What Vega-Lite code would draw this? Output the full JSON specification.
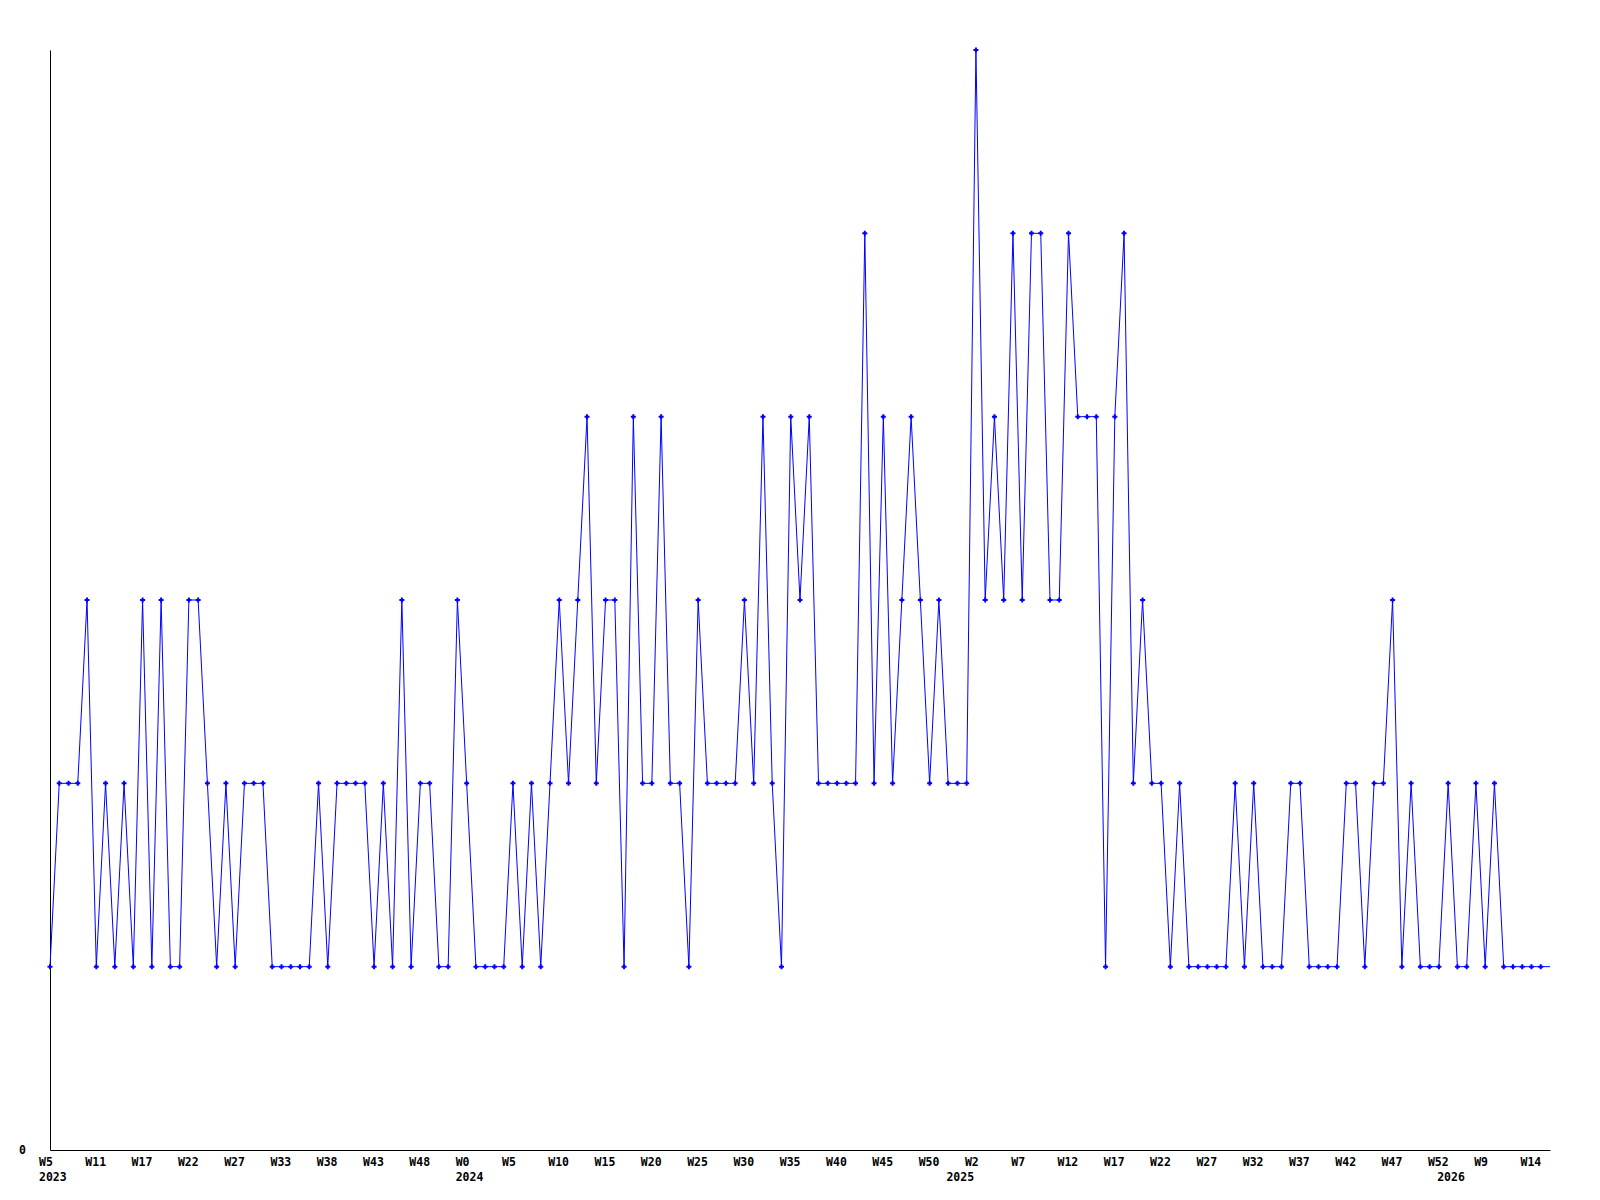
{
  "$schema": "https://vega.github.io/schema/vega-lite/v6.json",
  "width": 1500,
  "height": 1100,
  "autosize": "none",
  "padding": {"left": 50, "top": 50, "right": 50, "bottom": 50},
  "background": "white",
  "config": {
    "view": {"stroke": null},
    "axis": {
      "labelFont": "DejaVu Sans Mono",
      "labelFontWeight": "bold",
      "labelFontSize": 11.5,
      "labelColor": "#000000",
      "domainColor": "#000000",
      "domainWidth": 1,
      "grid": false,
      "ticks": false,
      "title": null
    }
  },
  "data": {
    "values": [
      {"i": 1, "v": 1}, {"i": 2, "v": 2}, {"i": 3, "v": 2}, {"i": 4, "v": 2}, {"i": 5, "v": 3},
      {"i": 6, "v": 1}, {"i": 7, "v": 2}, {"i": 8, "v": 1}, {"i": 9, "v": 2}, {"i": 10, "v": 1},
      {"i": 11, "v": 3}, {"i": 12, "v": 1}, {"i": 13, "v": 3}, {"i": 14, "v": 1}, {"i": 15, "v": 1},
      {"i": 16, "v": 3}, {"i": 17, "v": 3}, {"i": 18, "v": 2}, {"i": 19, "v": 1}, {"i": 20, "v": 2},
      {"i": 21, "v": 1}, {"i": 22, "v": 2}, {"i": 23, "v": 2}, {"i": 24, "v": 2}, {"i": 25, "v": 1},
      {"i": 26, "v": 1}, {"i": 27, "v": 1}, {"i": 28, "v": 1}, {"i": 29, "v": 1}, {"i": 30, "v": 2},
      {"i": 31, "v": 1}, {"i": 32, "v": 2}, {"i": 33, "v": 2}, {"i": 34, "v": 2}, {"i": 35, "v": 2},
      {"i": 36, "v": 1}, {"i": 37, "v": 2}, {"i": 38, "v": 1}, {"i": 39, "v": 3}, {"i": 40, "v": 1},
      {"i": 41, "v": 2}, {"i": 42, "v": 2}, {"i": 43, "v": 1}, {"i": 44, "v": 1}, {"i": 45, "v": 3},
      {"i": 46, "v": 2}, {"i": 47, "v": 1}, {"i": 48, "v": 1}, {"i": 49, "v": 1}, {"i": 50, "v": 1},
      {"i": 51, "v": 2}, {"i": 52, "v": 1}, {"i": 53, "v": 2}, {"i": 54, "v": 1}, {"i": 55, "v": 2},
      {"i": 56, "v": 3}, {"i": 57, "v": 2}, {"i": 58, "v": 3}, {"i": 59, "v": 4}, {"i": 60, "v": 2},
      {"i": 61, "v": 3}, {"i": 62, "v": 3}, {"i": 63, "v": 1}, {"i": 64, "v": 4}, {"i": 65, "v": 2},
      {"i": 66, "v": 2}, {"i": 67, "v": 4}, {"i": 68, "v": 2}, {"i": 69, "v": 2}, {"i": 70, "v": 1},
      {"i": 71, "v": 3}, {"i": 72, "v": 2}, {"i": 73, "v": 2}, {"i": 74, "v": 2}, {"i": 75, "v": 2},
      {"i": 76, "v": 3}, {"i": 77, "v": 2}, {"i": 78, "v": 4}, {"i": 79, "v": 2}, {"i": 80, "v": 1},
      {"i": 81, "v": 4}, {"i": 82, "v": 3}, {"i": 83, "v": 4}, {"i": 84, "v": 2}, {"i": 85, "v": 2},
      {"i": 86, "v": 2}, {"i": 87, "v": 2}, {"i": 88, "v": 2}, {"i": 89, "v": 5}, {"i": 90, "v": 2},
      {"i": 91, "v": 4}, {"i": 92, "v": 2}, {"i": 93, "v": 3}, {"i": 94, "v": 4}, {"i": 95, "v": 3},
      {"i": 96, "v": 2}, {"i": 97, "v": 3}, {"i": 98, "v": 2}, {"i": 99, "v": 2}, {"i": 100, "v": 2},
      {"i": 101, "v": 6}, {"i": 102, "v": 3}, {"i": 103, "v": 4}, {"i": 104, "v": 3}, {"i": 105, "v": 5},
      {"i": 106, "v": 3}, {"i": 107, "v": 5}, {"i": 108, "v": 5}, {"i": 109, "v": 3}, {"i": 110, "v": 3},
      {"i": 111, "v": 5}, {"i": 112, "v": 4}, {"i": 113, "v": 4}, {"i": 114, "v": 4}, {"i": 115, "v": 1},
      {"i": 116, "v": 4}, {"i": 117, "v": 5}, {"i": 118, "v": 2}, {"i": 119, "v": 3}, {"i": 120, "v": 2},
      {"i": 121, "v": 2}, {"i": 122, "v": 1}, {"i": 123, "v": 2}, {"i": 124, "v": 1}, {"i": 125, "v": 1},
      {"i": 126, "v": 1}, {"i": 127, "v": 1}, {"i": 128, "v": 1}, {"i": 129, "v": 2}, {"i": 130, "v": 1},
      {"i": 131, "v": 2}, {"i": 132, "v": 1}, {"i": 133, "v": 1}, {"i": 134, "v": 1}, {"i": 135, "v": 2},
      {"i": 136, "v": 2}, {"i": 137, "v": 1}, {"i": 138, "v": 1}, {"i": 139, "v": 1}, {"i": 140, "v": 1},
      {"i": 141, "v": 2}, {"i": 142, "v": 2}, {"i": 143, "v": 1}, {"i": 144, "v": 2}, {"i": 145, "v": 2},
      {"i": 146, "v": 3}, {"i": 147, "v": 1}, {"i": 148, "v": 2}, {"i": 149, "v": 1}, {"i": 150, "v": 1},
      {"i": 151, "v": 1}, {"i": 152, "v": 2}, {"i": 153, "v": 1}, {"i": 154, "v": 1}, {"i": 155, "v": 2},
      {"i": 156, "v": 1}, {"i": 157, "v": 2}, {"i": 158, "v": 1}, {"i": 159, "v": 1}, {"i": 160, "v": 1},
      {"i": 161, "v": 1}, {"i": 162, "v": 1}, {"i": 163, "v": 1}
    ]
  },
  "encoding": {
    "x": {
      "field": "i",
      "type": "quantitative",
      "scale": {"domain": [1, 163], "nice": false, "zero": false},
      "axis": {
        "values": [1, 6, 11, 16, 21, 26, 31, 36, 41, 46, 51, 56, 61, 66, 71, 76, 81, 86, 91, 96, 99, 101, 106, 111, 116, 121, 126, 131, 136, 141, 146, 151, 152, 156, 161],
        "labelExpr": "datum.value == 99 ? ['', '2025'] : datum.value == 152 ? ['', '2026'] : datum.value == 1 ? ['W5', '2023'] : datum.value == 46 ? ['W0', '2024'] : ['W5','W11','W17','W22','W27','W33','W38','W43','W48','W0','W5','W10','W15','W20','W25','W30','W35','W40','W45','W50','W2','W7','W12','W17','W22','W27','W32','W37','W42','W47','W52','W9','W14'][(datum.value - 1) / 5]",
        "labelAlign": "left",
        "labelBaseline": "top",
        "labelOffset": -11.5,
        "labelPadding": 6.5,
        "labelLineHeight": 15.4,
        "labelOverlap": false,
        "labelFlush": false,
        "labelBound": false
      }
    },
    "y": {
      "field": "v",
      "type": "quantitative",
      "scale": {"domain": [0, 6], "nice": false, "zero": true},
      "axis": {"values": [0], "labelPadding": 24.5, "labelFlush": false, "labelBound": false}
    }
  },
  "layer": [
    {"mark": {"type": "line", "color": "#0000ff", "strokeWidth": 1}},
    {
      "transform": [{"filter": "datum.i < 163"}],
      "mark": {"type": "point", "shape": "cross", "filled": true, "size": 25, "color": "#0000ff", "opacity": 1}
    }
  ]
}
